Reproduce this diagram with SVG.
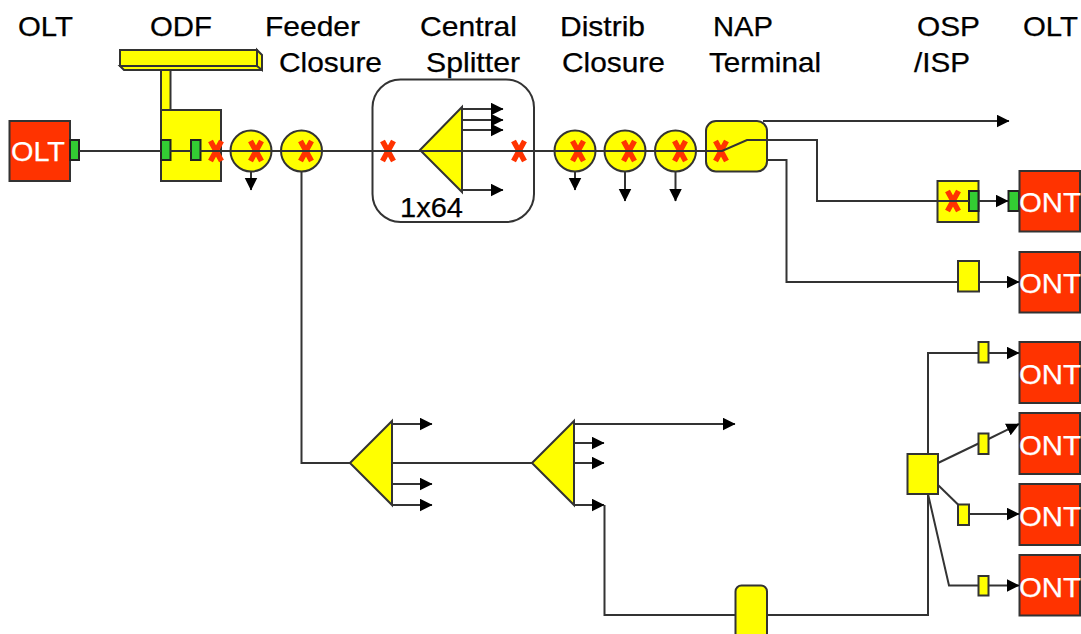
<svg xmlns="http://www.w3.org/2000/svg" width="1081" height="634" viewBox="0 0 1081 634">
<style>
text{font-family:"Liberation Sans",Arial,sans-serif;font-size:28px;fill:#000;stroke:#000;stroke-width:.25}
text.w{fill:#fff;stroke:#fff}
.y{fill:#ff0;stroke:#333;stroke-width:2}
.g{fill:#3c3;stroke:#222;stroke-width:2}
.r{fill:#f30;stroke:#333;stroke-width:2}
.b{fill:none;stroke:#333;stroke-width:2}
.c path{fill:none;stroke:#333;stroke-width:2}
.c .a{marker-end:url(#arrow)}
.x{fill:none;stroke:#f30;stroke-width:5.500}
</style>
<defs>
<marker id="arrow" markerUnits="userSpaceOnUse" markerWidth="14" markerHeight="14" refX="12.500" refY="6.500" orient="auto"><path d="M0,0L13,6.500L0,13Z" fill="#000"/></marker>
<path id="cross" d="M-5.500,-10L5.500,10M5.500,-10L-5.500,10"/>
</defs>
<g id="labels">
<text x="18" y="36" textLength="55" lengthAdjust="spacingAndGlyphs">OLT</text>
<text x="150" y="36" textLength="62" lengthAdjust="spacingAndGlyphs">ODF</text>
<text x="265" y="36" textLength="95" lengthAdjust="spacingAndGlyphs">Feeder</text>
<text x="279" y="72" textLength="103" lengthAdjust="spacingAndGlyphs">Closure</text>
<text x="420" y="36" textLength="97" lengthAdjust="spacingAndGlyphs">Central</text>
<text x="426" y="72" textLength="94" lengthAdjust="spacingAndGlyphs">Splitter</text>
<text x="560" y="36" textLength="85" lengthAdjust="spacingAndGlyphs">Distrib</text>
<text x="562" y="72" textLength="103" lengthAdjust="spacingAndGlyphs">Closure</text>
<text x="713" y="36" textLength="60" lengthAdjust="spacingAndGlyphs">NAP</text>
<text x="709" y="72" textLength="112" lengthAdjust="spacingAndGlyphs">Terminal</text>
<text x="917" y="36" textLength="63" lengthAdjust="spacingAndGlyphs">OSP</text>
<text x="914" y="72" textLength="56" lengthAdjust="spacingAndGlyphs">/ISP</text>
<text x="1023" y="36" textLength="55" lengthAdjust="spacingAndGlyphs">OLT</text>
</g>
<g id="olt-source"><rect class="r" x="9.500" y="121" width="60.500" height="60"/><text class="w" x="11" y="161" textLength="54" lengthAdjust="spacingAndGlyphs">OLT</text><rect class="g" x="70" y="140" width="9" height="20"/></g>
<g id="odf">
<rect class="y" x="120" y="50" width="137" height="16"/>
<path class="y" d="M120,66L124,70H262V66L257,66Z"/>
<path class="y" d="M257,50L262,55V70L257,66Z"/>
<rect class="y" x="161" y="70" width="9.500" height="40"/>
<rect class="y" x="161" y="110" width="60" height="71"/>
<rect class="g" x="161" y="140" width="9.500" height="20"/>
<rect class="g" x="191" y="140" width="9.500" height="20"/>
<use class="x" href="#cross" x="216" y="151"/>
</g>
<g id="feeder-closure-1"><circle class="y" cx="251" cy="151" r="20.500"/><use class="x" href="#cross" x="256" y="151"/></g>
<g id="feeder-closure-2"><circle class="y" cx="301.500" cy="151" r="20.500"/><use class="x" href="#cross" x="306" y="151"/></g>
<g id="central-splitter">
<rect class="b" x="372.500" y="79.500" width="161.500" height="142.500" rx="28"/>
<path class="y" d="M420,150L462,107V192Z"/>
<use class="x" href="#cross" x="388" y="151"/>
<use class="x" href="#cross" x="519" y="151"/>
<text x="400" y="217" textLength="63" lengthAdjust="spacingAndGlyphs">1x64</text>
</g>
<g id="distrib-closure-1"><circle class="y" cx="575" cy="151" r="20.500"/><use class="x" href="#cross" x="578" y="151"/></g>
<g id="distrib-closure-2"><circle class="y" cx="625" cy="151" r="20.500"/><use class="x" href="#cross" x="629" y="151"/></g>
<g id="distrib-closure-3"><circle class="y" cx="675.500" cy="151" r="20.500"/><use class="x" href="#cross" x="680" y="151"/></g>
<g id="nap-terminal"><rect class="y" x="706" y="121" width="61" height="50.500" rx="10"/><use class="x" href="#cross" x="721" y="151"/></g>
<g id="osp-isp"><rect class="y" x="937.500" y="181" width="41" height="41"/><use class="x" href="#cross" x="953" y="201"/><rect class="g" x="969" y="191" width="9.500" height="20"/></g>
<g id="ont-1"><rect class="g" x="1008.500" y="191" width="10.500" height="20"/><rect class="r" x="1019.500" y="171" width="60.500" height="60.500"/><text class="w" x="1019" y="212" textLength="62" lengthAdjust="spacingAndGlyphs">ONT</text></g>
<g id="ont-2"><rect class="y" x="958" y="261" width="21" height="30.500"/><rect class="r" x="1019.500" y="252" width="60.500" height="60.500"/><text class="w" x="1019" y="293" textLength="62" lengthAdjust="spacingAndGlyphs">ONT</text></g>
<g id="ont-3"><rect class="y" x="978.500" y="342" width="10" height="20.500"/><rect class="r" x="1019.500" y="342" width="60.500" height="61"/><text class="w" x="1019" y="384" textLength="62" lengthAdjust="spacingAndGlyphs">ONT</text></g>
<g id="ont-4"><rect class="y" x="978.500" y="433.500" width="10" height="20.500"/><rect class="r" x="1019.500" y="413" width="60.500" height="61"/><text class="w" x="1019" y="455" textLength="62" lengthAdjust="spacingAndGlyphs">ONT</text></g>
<g id="ont-5"><rect class="y" x="958" y="504.500" width="11" height="20.500"/><rect class="r" x="1019.500" y="484" width="60.500" height="61"/><text class="w" x="1019" y="526" textLength="62" lengthAdjust="spacingAndGlyphs">ONT</text></g>
<g id="ont-6"><rect class="y" x="978.500" y="576" width="10" height="19.500"/><rect class="r" x="1019.500" y="555" width="60.500" height="60.500"/><text class="w" x="1019" y="597" textLength="62" lengthAdjust="spacingAndGlyphs">ONT</text></g>
<g id="hub"><rect class="y" x="907.500" y="454" width="30.500" height="40"/></g>
<g id="pill"><rect class="y" x="735.500" y="585.500" width="31.500" height="60" rx="6"/></g>
<g id="splitter-2"><path class="y" d="M350,463L392,421V505Z"/></g>
<g id="splitter-3"><path class="y" d="M532,463L574,421V505Z"/></g>
<g id="connectors" class="c">
<path d="M79,151H161M170,151H191M200,151H722L747,140H817V201H969"/>
<path class="a" d="M978.500,201H1008"/>
<path class="a" d="M763,121H1009"/>
<path d="M767,160H786.500V282H958"/>
<path class="a" d="M979,282H1019"/>
<path class="a" d="M251,171V190"/>
<path d="M301.500,171V463H350"/>
<path class="a" d="M462,109H503"/><path class="a" d="M462,120H503"/><path class="a" d="M462,130H503"/><path class="a" d="M462,190H503"/>
<path class="a" d="M575,171V190"/><path class="a" d="M625,171V201"/><path class="a" d="M675.500,171V201"/>
<path class="a" d="M392,424H432"/><path class="a" d="M392,484H432"/><path class="a" d="M392,505H432"/>
<path d="M392,463H532"/>
<path class="a" d="M574,424H735"/><path class="a" d="M574,443H604"/><path class="a" d="M574,463H604"/><path class="a" d="M574,505H604"/>
<path d="M604.500,505V615H735.500M767,615H928V494"/>
<path d="M928,454V353H978.500"/><path class="a" d="M988.500,353H1019"/>
<path d="M938,463L978.500,443.500"/><path class="a" d="M988.500,439L1019,424"/>
<path d="M938,485L958,504.500"/><path class="a" d="M969,514H1019"/>
<path d="M928,494L949,585.500H978.500"/><path class="a" d="M988.500,585.500H1019"/>
</g>
</svg>
